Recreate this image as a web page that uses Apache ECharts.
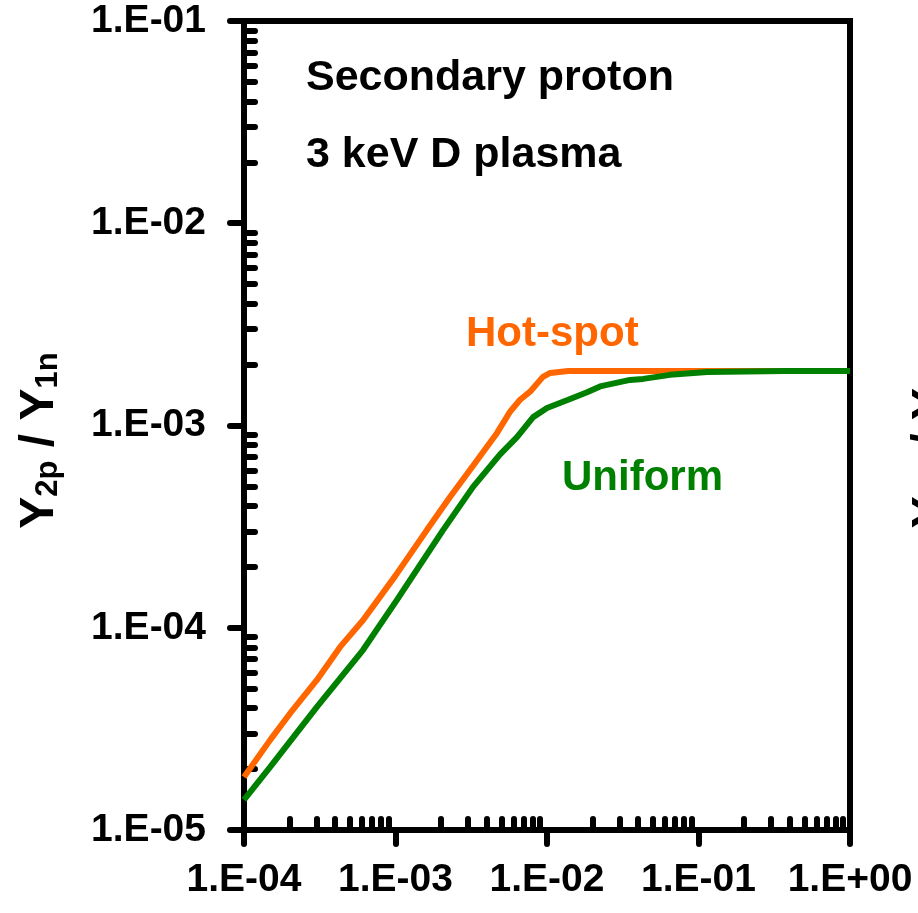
<!DOCTYPE html>
<html>
<head>
<meta charset="utf-8">
<script src="https://cdn.jsdelivr.net/npm/echarts@6/dist/echarts.min.js"></script>
<style>
html,body{margin:0;padding:0;background:#fff;}
#chart{width:918px;height:913px;}
</style>
</head>
<body>
<div id="chart"></div>
<script>
// ---- data ----
var hotSpotX = [1e-4, 1.49e-4, 2.10e-4, 3.03e-4, 4.31e-4, 6.10e-4, 1.0e-3, 1.61e-3, 2.29e-3, 3.10e-3, 4.68e-3, 5.70e-3, 6.64e-3, 7.73e-3, 9.4e-3, 1.05e-2, 1.38e-2, 0.1, 0.37, 1.0];
var hotSpotY = [1.83e-5, 2.79e-5, 3.93e-5, 5.52e-5, 8.04e-5, 1.09e-4, 1.81e-4, 3.04e-4, 4.43e-4, 6.03e-4, 9.19e-4, 1.17e-3, 1.34e-3, 1.47e-3, 1.74e-3, 1.82e-3, 1.86e-3, 1.86e-3, 1.86e-3, 1.86e-3];
var uniformX = [1e-4, 1.49e-4, 3.03e-4, 6.10e-4, 1.02e-3, 2.06e-3, 3.25e-3, 4.90e-3, 6.34e-3, 8.1e-3, 1.0e-2, 1.38e-2, 1.84e-2, 2.24e-2, 3.53e-2, 4.31e-2, 6.49e-2, 0.114, 0.372, 1.0];
var uniformY = [1.41e-5, 2.05e-5, 4.06e-5, 7.76e-5, 1.37e-4, 3.04e-4, 4.97e-4, 7.2e-4, 8.77e-4, 1.10e-3, 1.22e-3, 1.34e-3, 1.46e-3, 1.56e-3, 1.68e-3, 1.70e-3, 1.78e-3, 1.84e-3, 1.86e-3, 1.86e-3];

var xTickValues = [1e-4, 1e-3, 1e-2, 1e-1, 1];
var xTickLabels = ['1.E-04', '1.E-03', '1.E-02', '1.E-01', '1.E+00'];
var yTickValues = [1e-5, 1e-4, 1e-3, 1e-2, 1e-1];
var yTickLabels = ['1.E-05', '1.E-04', '1.E-03', '1.E-02', '1.E-01'];
var minorMultipliers = [2, 3, 4, 5, 6, 7, 8, 9];

function minorTicks(decades) {
  var out = [];
  for (var i = 0; i < decades.length - 1; i++) {
    for (var j = 0; j < minorMultipliers.length; j++) out.push(decades[i] * minorMultipliers[j]);
  }
  return out;
}
function labelFor(values, labels) {
  return function (v) {
    for (var i = 0; i < values.length; i++) {
      if (Math.abs(Math.log10(v) - Math.log10(values[i])) < 1e-6) return labels[i];
    }
    return '';
  };
}
function pairs(xs, ys) { return xs.map(function (x, i) { return [x, ys[i]]; }); }

var FONT = 'Liberation Sans, Arial, sans-serif';
var chart = echarts.init(document.getElementById('chart'), null, {renderer: 'canvas'});

var tickLine = {color: '#000', width: 6, cap: 'round'};
var titleRich = {
  b: {fontSize: 48, fontWeight: 'bold', fontFamily: FONT, color: '#000', lineHeight: 48, verticalAlign: 'bottom'},
  s: {fontSize: 31, fontWeight: 'bold', fontFamily: FONT, color: '#000', lineHeight: 2, verticalAlign: 'bottom'}
};

chart.setOption({
  animation: false,
  backgroundColor: '#fff',
  grid: {left: 244, right: 68, top: 21, bottom: 83, show: true, borderColor: '#000', borderWidth: 6, backgroundColor: 'transparent'},
  xAxis: [{
    type: 'log', logBase: 10, min: 1e-4, max: 1, position: 'bottom',
    axisLine: {show: true, lineStyle: {color: '#000', width: 6}},
    axisTick: {show: true, inside: false, length: 14, customValues: xTickValues, lineStyle: tickLine},
    axisLabel: {show: true, customValues: xTickValues, formatter: labelFor(xTickValues, xTickLabels), margin: 31, color: '#000', fontSize: 39, fontWeight: 'bold', fontFamily: FONT},
    splitLine: {show: false}, minorTick: {show: false}
  }, {
    type: 'log', logBase: 10, min: 1e-4, max: 1, position: 'bottom',
    axisLine: {show: false},
    axisTick: {show: true, inside: true, length: 11, customValues: minorTicks(xTickValues), lineStyle: tickLine},
    axisLabel: {show: false}, splitLine: {show: false}
  }],
  yAxis: [{
    type: 'log', logBase: 10, min: 1e-5, max: 1e-1, position: 'left',
    axisLine: {show: true, lineStyle: {color: '#000', width: 6}},
    axisTick: {show: true, inside: false, length: 14, customValues: yTickValues, lineStyle: tickLine},
    axisLabel: {show: true, customValues: yTickValues, formatter: labelFor(yTickValues, yTickLabels), margin: 38, color: '#000', fontSize: 39, fontWeight: 'bold', fontFamily: FONT},
    splitLine: {show: false},
    name: '{b|Y}{s|2p}{b| / Y}{s|1n}',
    nameLocation: 'middle', nameRotate: 90, nameGap: 180,
    nameTextStyle: {color: '#000', fontFamily: FONT, fontWeight: 'bold', padding: [0, 30, 0, 0], rich: titleRich}
  }, {
    type: 'log', logBase: 10, min: 1e-5, max: 1e-1, position: 'left',
    axisLine: {show: false},
    axisTick: {show: true, inside: true, length: 11, customValues: minorTicks(yTickValues), lineStyle: tickLine},
    axisLabel: {show: false}, splitLine: {show: false}
  }],
  series: [{
    name: 'Hot-spot', type: 'line', xAxisIndex: 0, yAxisIndex: 0,
    data: pairs(hotSpotX, hotSpotY), showSymbol: false, symbol: 'none',
    lineStyle: {color: '#FF6600', width: 6}, z: 3
  }, {
    name: 'Uniform', type: 'line', xAxisIndex: 0, yAxisIndex: 0,
    data: pairs(uniformX, uniformY), showSymbol: false, symbol: 'none',
    lineStyle: {color: '#008000', width: 6}, z: 4
  }],
  graphic: [
    {type: 'text', left: 306, top: 57, style: {text: 'Secondary proton', font: 'bold 43px ' + FONT, fill: '#000'}},
    {type: 'text', left: 306, top: 134, style: {text: '3 keV D plasma', font: 'bold 43px ' + FONT, fill: '#000'}},
    {type: 'text', left: 466, top: 313, style: {text: 'Hot-spot', font: 'bold 42px ' + FONT, fill: '#FF6600'}},
    {type: 'text', left: 562, top: 457, style: {text: 'Uniform', font: 'bold 42px ' + FONT, fill: '#008000'}},
    {type: 'text', x: 908, y: 440, rotation: Math.PI / 2,
     style: {text: '{b|Y}{s|2n}{b| / Y}{s|1n}', align: 'center', verticalAlign: 'top', rich: titleRich}}
  ]
});
</script>
</body>
</html>
